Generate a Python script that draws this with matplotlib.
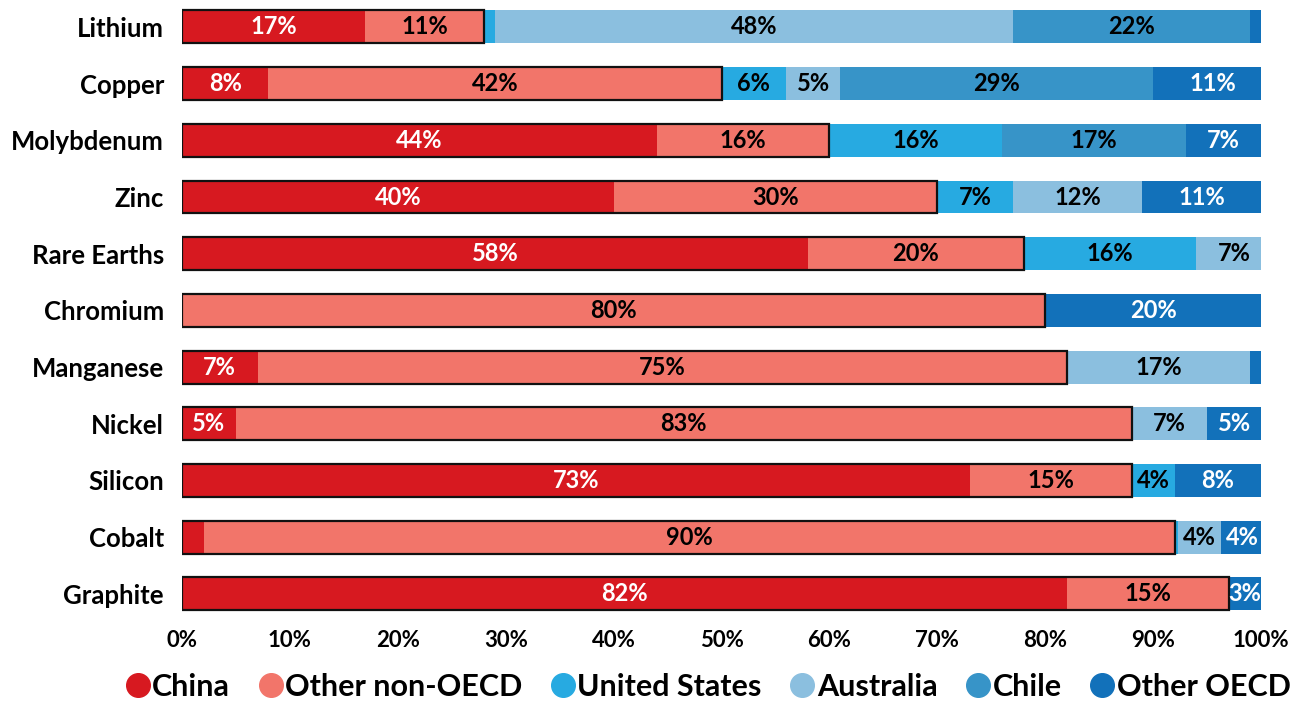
import matplotlib.pyplot as plt
from matplotlib.lines import Line2D

plt.rcParams['font.family'] = ['Lato', 'DejaVu Sans']
plt.rcParams['font.weight'] = 'bold'

minerals = ["Lithium", "Copper", "Molybdenum", "Zinc", "Rare Earths", "Chromium",
            "Manganese", "Nickel", "Silicon", "Cobalt", "Graphite"]
regions = ["China", "Other non-OECD", "United States", "Australia", "Chile", "Other OECD"]

china       = [17, 8, 44, 40, 58, 0, 7, 5, 73, 2, 82]
non_oecd    = [11, 42, 16, 30, 20, 80, 75, 83, 15, 90, 15]
usa         = [1, 6, 16, 7, 16, 0, 0, 0, 4, 0.3, 0]
australia   = [48, 5, 0, 12, 7, 0, 17, 7, 0, 4, 0]
chile       = [22, 29, 17, 0, 0, 0, 0, 0, 0, 0, 0]
other_oecd  = [1, 11, 7, 11, 0, 20, 1, 5, 8, 4, 3]

colors = ["#D71920", "#F2756A", "#27AAE1", "#8BBFDF", "#3794C8", "#1271BA"]
text_colors = ["white", "black", "black", "black", "black", "white"]

series = [china, non_oecd, usa, australia, chile, other_oecd]

fig = plt.figure(figsize=(12.97, 7.04), dpi=100)
ax = fig.add_axes([0.1403, 0.125, 0.832, 0.868])

y = list(range(len(minerals)))
bar_h = 0.58
left = [0] * len(minerals)
for vals, col, tcol in zip(series, colors, text_colors):
    ax.barh(y, vals, left=left, height=bar_h, color=col, linewidth=0)
    for i, v in enumerate(vals):
        if v >= 3:
            ax.text(left[i] + v / 2, i, f"{v:g}%", ha="center", va="center",
                    color=tcol, fontsize=17, fontweight="bold")
    left = [l + v for l, v in zip(left, vals)]

# black frame around the non-OECD share (China + other non-OECD)
non_oecd_total = [c + n for c, n in zip(china, non_oecd)]
ax.barh(y, non_oecd_total, height=bar_h, fill=False, edgecolor="#111111", linewidth=1.6)

ax.set_xlim(0, 100)
ax.set_ylim(10.39, -0.388)
ax.set_yticks(y)
ax.set_yticklabels(minerals, fontsize=18.5, fontweight="bold")
ax.set_xticks(range(0, 101, 10))
ax.set_xticklabels([f"{t}%" for t in range(0, 101, 10)], fontsize=16, fontweight="bold")
ax.tick_params(length=0, pad=10)
ax.tick_params(axis="y", pad=13)
for s in ax.spines.values():
    s.set_visible(False)

handles = [Line2D([], [], marker="o", linestyle="", markersize=17, color=c) for c in colors]
fig.legend(handles, regions, loc="center", bbox_to_anchor=(0.545, 0.024), ncol=6,
           frameon=False, fontsize=22, handlelength=0.95, handletextpad=0.0,
           columnspacing=0.85, borderaxespad=0, borderpad=0)

fig.savefig("out.png", dpi=100)
